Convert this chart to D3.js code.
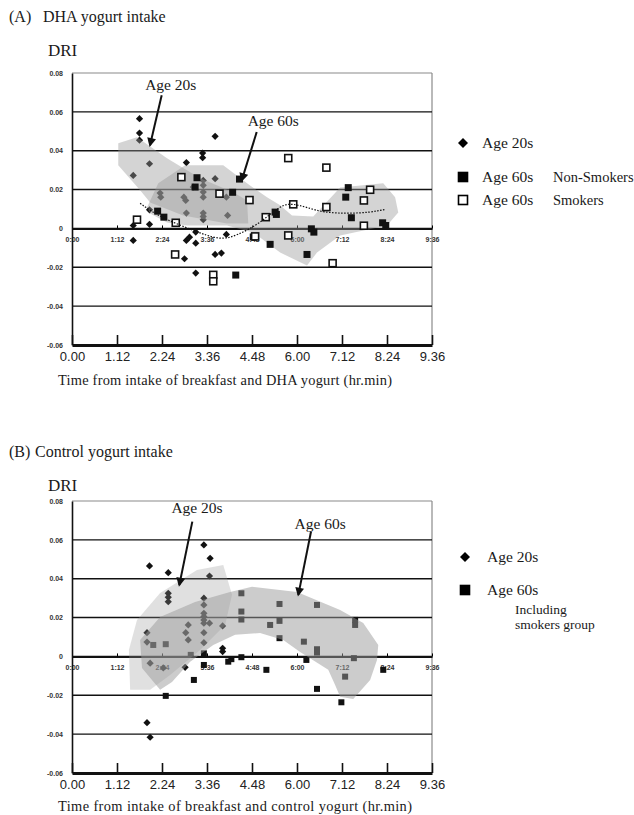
<!DOCTYPE html>
<html>
<head>
<meta charset="utf-8">
<title>DRI after yogurt intake</title>
<script src="https://d3js.org/d3.v7.min.js"></script>
<style>
  body { margin: 0; background: #fff; }
  svg { display: block; }
  .serif { font-family: "Liberation Serif", "DejaVu Serif", serif; fill: #1a1a1a; }
  .tiny text { font-family: "Liberation Sans", Arial, sans-serif; font-size: 7px; font-weight: bold; fill: #333; }
  .bottom text { font-family: "Liberation Sans", Arial, sans-serif; font-size: 13px; fill: #222; }
</style>
</head>
<body>
<svg width="634" height="815"></svg>
<script>
// axis values (time in minutes after intake)
var xTickMinutes = [0, 72, 144, 216, 288, 360, 432, 504, 576];
var innerLabels = ["0:00", "1:12", "2:24", "3:36", "4:48", "6:00", "7:12", "8:24", "9:36"];
var bottomLabels = ["0.00", "1.12", "2.24", "3.36", "4.48", "6.00", "7.12", "8.24", "9.36"];
var yTicks = [0.08, 0.06, 0.04, 0.02, 0, -0.02, -0.04, -0.06];
var yTickLabels = ["0.08", "0.06", "0.04", "0.02", "0", "-0.02", "-0.04", "-0.06"];
var gridValues = [0.06, 0.04, 0.02, -0.02, -0.04];

// (A) DHA yogurt: [minutes, DRI]
var dha20s = [[108,0.0565],[108,0.0491],[108,0.0454],[124,0.0333],[98,0.0273],[124,0.0096],[98,0.0015],
  [124,0.0021],[98,-0.0062],[183,0.0339],[209,0.0388],[209,0.0364],[229,0.0474],[141,0.0182],[142,0.0161],
  [179,0.0161],[182,0.0144],[194,0.0213],[210,0.0247],[210,0.0222],[210,0.0187],[210,0.0161],[229,0.0256],
  [247,0.0161],[183,0.0079],[210,0.0079],[210,0.0062],[210,0.0045],[249,0.0067],[198,-0.0019],[247,-0.0031],
  [183,-0.0062],[188,-0.0045],[198,-0.0076],[180,-0.0156],[198,-0.0230],[229,-0.0134],[239,-0.0127]];
var dha60sNonSmokers = [[200,0.0261],[197,0.0213],[137,0.0089],[147,0.0058],[268,0.0254],[257,0.0186],
  [290,-0.0044],[325,0.0084],[327,0.0072],[383,-0.0002],[387,-0.0019],[442,0.0210],[438,0.0161],[447,0.0055],
  [497,0.0029],[502,0.0015],[317,-0.0082],[376,-0.0134],[262,-0.0240]];
var dha60sSmokers = [[175,0.0264],[236,0.0179],[284,0.0146],[104,0.0045],[166,0.0029],[293,-0.0041],
  [346,0.0362],[407,0.0313],[477,0.0199],[467,0.0144],[407,0.0110],[354,0.0124],[310,0.0058],[467,0.0014],
  [346,-0.0036],[165,-0.0134],[226,-0.0239],[226,-0.0272],[417,-0.0179]];
var dhaTrend = [[109,0.0129],[141,0.0057],[194,-0.0010],[237,-0.0062],[264,-0.0036],[301,0.0026],
  [333,0.0119],[352,0.0129],[376,0.0108],[402,0.0082],[440,0.0077],[477,0.0082],[501,0.0098]];
var dhaZone20s = [[74,0.0438],[104,0.0469],[152,0.0361],[205,0.0258],[258,0.0186],[280,0.0144],[282,0.0026],
  [248,0.0026],[178,0.0067],[125,0.0134],[109,0.0196],[74,0.0325]];
var dhaZone60s = [[120,0.0108],[138,0.0232],[181,0.0325],[242,0.0325],[280,0.0232],[312,0.0160],[333,0.0119],
  [352,0.0067],[386,0.0062],[429,0.0211],[498,0.0232],[517,0.0160],[522,0.0082],[504,0.0015],[429,-0.0036],
  [392,-0.0124],[376,-0.0191],[333,-0.0124],[290,-0.0021],[248,0.0015],[184,0.0015],[152,0.0031],[125,0.0077]];

// (B) control yogurt: [minutes, DRI]
var ctl20s = [[124,0.0466],[154,0.0431],[211,0.0574],[221,0.0505],[220,0.0414],[154,0.0325],[154,0.0305],
  [154,0.0282],[211,0.0300],[211,0.0265],[211,0.0222],[211,0.0205],[211,0.0188],[211,0.0171],[220,0.0171],
  [241,0.0157],[186,0.0162],[182,0.0122],[186,0.0085],[211,0.0122],[120,0.0122],[120,0.0074],[211,0.0071],
  [241,0.0042],[241,0.0025],[125,-0.0035],[181,-0.0056],[146,-0.0059],[120,-0.0341],[125,-0.0416]];
var ctl60s = [[130,0.0059],[150,0.0063],[271,0.0325],[271,0.0231],[271,0.0190],[190,0.0008],[211,0.0016],
  [211,-0.0044],[195,-0.0121],[150,-0.0203],[250,-0.0027],[255,-0.0014],[271,-0.0004],[332,0.0270],
  [332,0.0183],[317,0.0162],[392,0.0265],[332,0.0094],[371,0.0076],[392,0.0037],[392,0.0020],[375,-0.0018],
  [451,-0.0009],[311,-0.0069],[437,-0.0104],[392,-0.0167],[431,-0.0236],[498,-0.0069],[453,0.0188],[453,0.0162]];
var ctlZone20s = [[93,-0.0172],[91,0.0033],[104,0.0188],[141,0.0327],[200,0.0445],[242,0.0471],[256,0.0317],
  [245,0.0162],[205,0.0033],[157,-0.0095],[125,-0.0172]];
var ctlZone60s = [[141,-0.0172],[112,-0.0059],[109,0.0085],[141,0.0203],[197,0.0280],[253,0.0332],[288,0.0358],
  [360,0.0332],[429,0.0239],[466,0.0172],[490,0.0059],[488,-0.0018],[477,-0.0121],[450,-0.0219],[429,-0.0208],
  [421,-0.0147],[410,-0.0069],[365,0.0023],[338,0.0085],[301,0.0121],[261,0.0111],[226,0.0059],[189,-0.0028],[160,-0.0131]];

var svg = d3.select("svg");
var x = d3.scaleLinear().domain([0, 576]).range([72, 432]);

svg.append("defs").append("marker")
  .attr("id", "arrow")
  .attr("viewBox", "0 0 10 10")
  .attr("refX", 8).attr("refY", 5)
  .attr("markerUnits", "userSpaceOnUse")
  .attr("markerWidth", 10).attr("markerHeight", 9)
  .attr("orient", "auto")
  .append("path").attr("d", "M0,0L10,5L0,10Z").attr("fill", "#111");

var diamondType = {
  draw: function(ctx, size) {
    var r = Math.sqrt(size / 2);
    ctx.moveTo(0, -r); ctx.lineTo(r, 0); ctx.lineTo(0, r); ctx.lineTo(-r, 0); ctx.closePath();
  }
};

function drawMarks(g, pts, kind, y, sq) {
  if (kind === "diamond") {
    g.selectAll(null).data(pts).join("path")
      .attr("transform", function(d) { return "translate(" + x(d[0]) + "," + y(d[1]) + ")"; })
      .attr("d", d3.symbol(diamondType, 26))
      .attr("fill", "#111");
  } else {
    g.selectAll(null).data(pts).join("rect")
      .attr("x", function(d) { return x(d[0]) - sq / 2; })
      .attr("y", function(d) { return y(d[1]) - sq / 2; })
      .attr("width", sq).attr("height", sq)
      .attr("fill", kind === "open" ? "#fff" : "#111")
      .attr("stroke", kind === "open" ? "#111" : "none")
      .attr("stroke-width", 1.6);
  }
}

function drawPanel(p) {
  var y = d3.scaleLinear().domain([-0.06, 0.08]).range([p.bottom, p.top]);
  var g = svg.append("g");

  g.append("text").attr("class", "serif").attr("x", 9).attr("y", p.titleY)
    .style("font-size", "16px").text(p.tag);
  g.append("text").attr("class", "serif").attr("x", p.titleX).attr("y", p.titleY)
    .style("font-size", "16px").text(p.title);
  g.append("text").attr("class", "serif").attr("x", 48).attr("y", p.titleY + 34)
    .style("font-size", "17px").text("DRI");

  // frame
  g.append("line").attr("x1", x(0)).attr("x2", x(576)).attr("y1", y(0.08)).attr("y2", y(0.08))
    .attr("stroke", "#8a8a8a").attr("stroke-width", 1.2);
  g.append("line").attr("x1", x(576)).attr("x2", x(576)).attr("y1", y(0.08)).attr("y2", y(-0.06))
    .attr("stroke", "#8a8a8a").attr("stroke-width", 1.2);

  g.selectAll(".grid").data(gridValues).join("line")
    .attr("x1", x(0)).attr("x2", x(576))
    .attr("y1", function(d) { return y(d); }).attr("y2", function(d) { return y(d); })
    .attr("stroke", "#111").attr("stroke-width", 1.4);

  var inner = g.append("g").attr("class", "tiny")
    .attr("transform", "translate(0," + y(0) + ")")
    .call(d3.axisBottom(x).tickValues(xTickMinutes)
      .tickFormat(function(d, i) { return innerLabels[i]; })
      .tickSizeInner(-3).tickSizeOuter(0).tickPadding(9));
  inner.select(".domain").attr("stroke", "#111").attr("stroke-width", 2.2);

  var left = g.append("g").attr("class", "tiny")
    .attr("transform", "translate(" + x(0) + ",0)")
    .call(d3.axisLeft(y).tickValues(yTicks)
      .tickFormat(function(d, i) { return yTickLabels[i]; })
      .tickSize(0).tickPadding(9));
  left.select(".domain").attr("stroke", "#111").attr("stroke-width", 1.6);

  var bot = g.append("g").attr("class", "bottom")
    .attr("transform", "translate(0," + y(-0.06) + ")")
    .call(d3.axisBottom(x).tickValues(xTickMinutes)
      .tickFormat(function(d, i) { return bottomLabels[i]; })
      .tickSizeInner(-10).tickSizeOuter(0).tickPadding(7));
  bot.select(".domain").attr("stroke", "#111").attr("stroke-width", 3);
  bot.selectAll(".tick line").attr("stroke", "#111").attr("stroke-width", 1.6);

  g.append("text").attr("class", "serif").attr("x", 58).attr("y", p.xTitleY)
    .attr("textLength", p.xTitleLen).attr("lengthAdjust", "spacing")
    .style("font-size", "14.4px").text(p.xTitle);

  p.under.forEach(function(s) { drawMarks(g, s.pts, s.kind, y, p.sq); });

  var area = d3.line().x(function(d) { return x(d[0]); }).y(function(d) { return y(d[1]); })
    .curve(d3.curveLinearClosed);
  p.zones.forEach(function(z) {
    g.append("path").datum(z.pts).attr("d", area)
      .attr("fill", "#999").attr("fill-opacity", z.opacity);
  });

  p.over.forEach(function(s) { drawMarks(g, s.pts, s.kind, y, p.sq); });

  if (p.trend) {
    g.append("path").datum(p.trend)
      .attr("d", d3.line().x(function(d) { return x(d[0]); }).y(function(d) { return y(d[1]); })
        .curve(d3.curveBasis))
      .attr("fill", "none").attr("stroke", "#111").attr("stroke-width", 1.2)
      .attr("stroke-dasharray", "1.5,1.5");
  }

  p.notes.forEach(function(n) {
    g.append("line")
      .attr("x1", x(n.from[0])).attr("y1", y(n.from[1]))
      .attr("x2", x(n.to[0])).attr("y2", y(n.to[1]))
      .attr("stroke", "#111").attr("stroke-width", 2)
      .attr("marker-end", "url(#arrow)");
    g.append("text").attr("class", "serif")
      .attr("x", x(n.at[0])).attr("y", y(n.at[1])).attr("dy", "0.35em")
      .attr("text-anchor", "middle").style("font-size", "15.5px").text(n.text);
  });

  p.legend.forEach(function(l) {
    if (l.kind === "diamond") {
      g.append("path").attr("transform", "translate(" + l.x + "," + l.y + ")")
        .attr("d", d3.symbol(diamondType, 50)).attr("fill", "#000");
    } else {
      g.append("rect").attr("x", l.x - 4.5).attr("y", l.y - 4.5).attr("width", 9).attr("height", 9)
        .attr("fill", l.kind === "open" ? "#fff" : "#000").attr("stroke", "#000").attr("stroke-width", 1.6);
    }
    l.texts.forEach(function(t) {
      g.append("text").attr("class", "serif").attr("x", t[0]).attr("y", t[1]).attr("dy", "0.35em")
        .style("font-size", t[3] || "15.5px").text(t[2]);
    });
  });
}

drawPanel({
  tag: "(A)", title: "DHA yogurt intake", titleX: 43, titleY: 22,
  top: 73, bottom: 345, xTitleY: 385, xTitleLen: 334, sq: 7,
  xTitle: "Time from intake of breakfast and DHA yogurt (hr.min)",
  under: [{ pts: dha20s, kind: "diamond" }],
  zones: [{ pts: dhaZone60s, opacity: 0.42 }, { pts: dhaZone20s, opacity: 0.42 }],
  over: [{ pts: dha60sNonSmokers, kind: "filled" }, { pts: dha60sSmokers, kind: "open" }],
  trend: dhaTrend,
  notes: [
    { text: "Age 20s", at: [158, 0.0742], from: [143.5, 0.0686], to: [124.8, 0.0428] },
    { text: "Age 60s", at: [322, 0.0557], from: [295.5, 0.0496], to: [271.5, 0.0247] }
  ],
  legend: [
    { kind: "diamond", x: 463, y: 143, texts: [[482, 143, "Age 20s"]] },
    { kind: "filled", x: 463, y: 177, texts: [[482, 177, "Age 60s"], [553, 177, "Non-Smokers", "14.5px"]] },
    { kind: "open", x: 463, y: 200, texts: [[482, 200, "Age 60s"], [553, 200, "Smokers", "14.5px"]] }
  ]
});

drawPanel({
  tag: "(B)", title: "Control yogurt intake", titleX: 35, titleY: 457,
  top: 501, bottom: 773, xTitleY: 811, xTitleLen: 354, sq: 6,
  xTitle: "Time from intake of breakfast and control yogurt (hr.min)",
  under: [{ pts: ctl20s, kind: "diamond" }, { pts: ctl60s, kind: "filled" }],
  zones: [{ pts: ctlZone20s, opacity: 0.3 }, { pts: ctlZone60s, opacity: 0.5 }],
  over: [],
  trend: null,
  notes: [
    { text: "Age 20s", at: [200, 0.0764], from: [192.5, 0.0694], to: [171.7, 0.0368] },
    { text: "Age 60s", at: [397, 0.0682], from: [382.4, 0.0642], to: [362.1, 0.0317] }
  ],
  legend: [
    { kind: "diamond", x: 465, y: 557, texts: [[487, 557, "Age 20s"]] },
    { kind: "filled", x: 465, y: 590, texts: [[487, 590, "Age 60s"], [515, 609, "Including", "13.5px"], [515, 624, "smokers group", "13.5px"]] }
  ]
});
</script>
</body>
</html>
